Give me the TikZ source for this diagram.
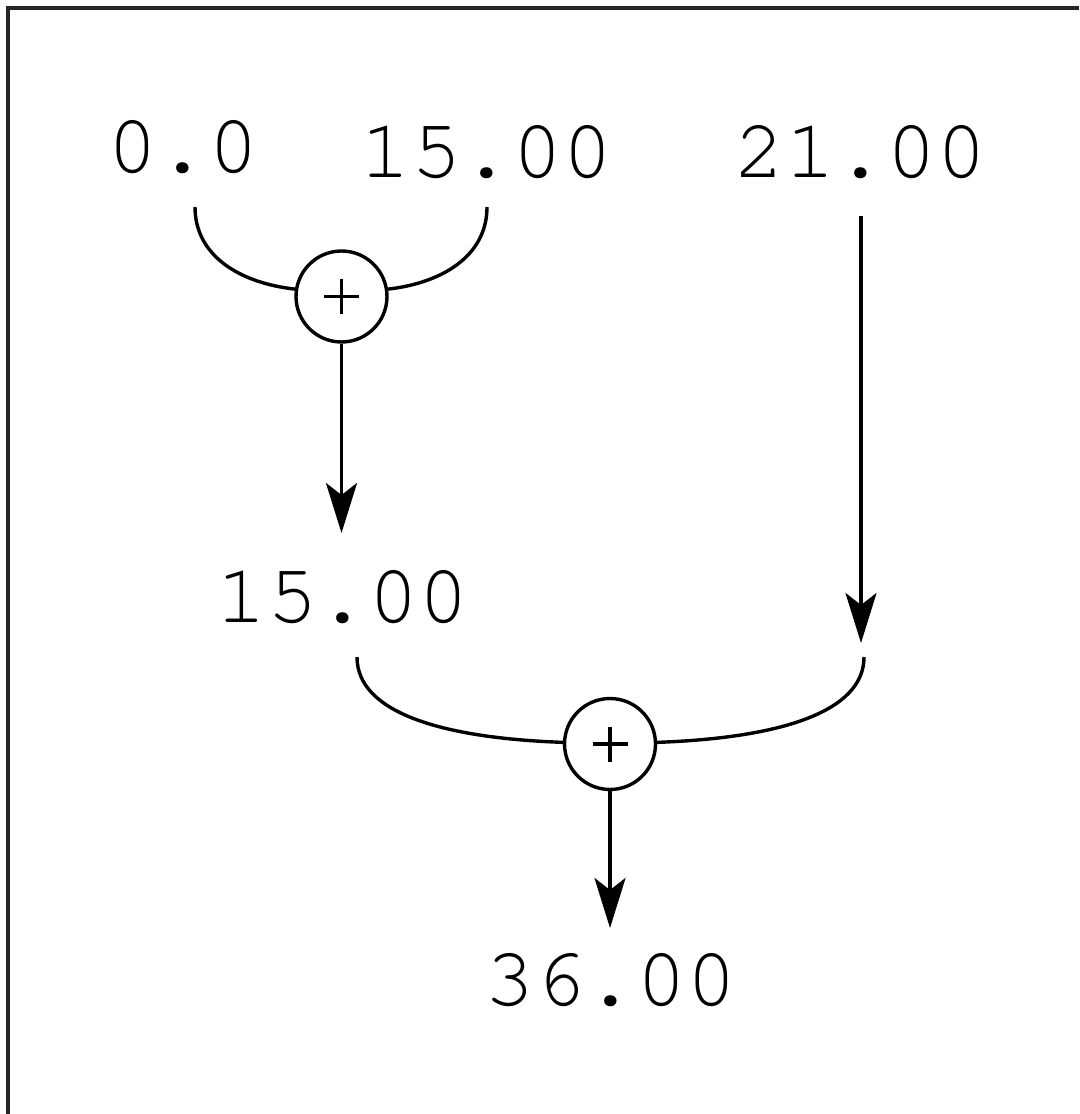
\documentclass[tikz,border=0pt]{standalone}
\usepackage[T1]{fontenc}
\usetikzlibrary{arrows.meta}
\begin{document}
\begin{tikzpicture}[x=0.02cm,y=-0.02cm,line width=0.068cm,
  num/.style={font=\fontencoding{T1}\fontfamily{pcr}\fontseries{m}\fontsize{48}{50}\selectfont,inner sep=0pt,anchor=base},
  sumnode/.style={circle,draw,line width=0.068cm,minimum size=1.82cm,inner sep=0pt,
    path picture={\draw[line width=0.064cm]
      ([xshift=-0.35cm]path picture bounding box.center) -- ([xshift=0.35cm]path picture bounding box.center)
      ([yshift=-0.35cm]path picture bounding box.center) -- ([yshift=0.35cm]path picture bounding box.center);}},
  arr/.style={-{Stealth[length=1cm,width=0.62cm,inset=0.24cm]}},
  frameline/.style={line width=0.08cm,line join=miter,draw=black!85}]
\useasboundingbox (0,0) rectangle (1079,1114);
\fill[white] (0,0) rectangle (1079,1114);
\draw[frameline] (8,1114) -- (8,8) -- (1079,8);

% numbers
\node[num] (n0) at (183,173) {0.0};
\node[num] (n15a) at (487,178) {15.00};
\node[num] (n21) at (861,178) {21.00};
\node[num] (n15b) at (343,622) {15.00};
\node[num] (n36) at (611,1005) {36.00};

% sum nodes
\node[sumnode] (s1) at (341.5,296.5) {};
\node[sumnode] (s2) at (610,744) {};

% coordinates
\coordinate (c1l) at (195,207);
\coordinate (c1r) at (487,207);
\coordinate (t1) at (341.5,533);
\coordinate (a21) at (861,216);
\coordinate (t21) at (861,643);
\coordinate (c2l) at (357,657);
\coordinate (c2r) at (864,657);
\coordinate (t3) at (610,928);

% top merge
\draw (c1l) .. controls (195,256) and (240,283) .. (s1.171);
\draw (c1r) .. controls (487,256) and (442,283) .. (s1.9);
\draw[arr] (s1.south) -- (t1);

% right branch
\draw[arr] (a21) -- (t21);

% bottom merge
\draw (c2l) .. controls (357,712) and (440,738) .. (s2.178);
\draw (c2r) .. controls (864,712) and (780,738) .. (s2.2);
\draw[arr] (s2.south) -- (t3);
\end{tikzpicture}
\end{document}
